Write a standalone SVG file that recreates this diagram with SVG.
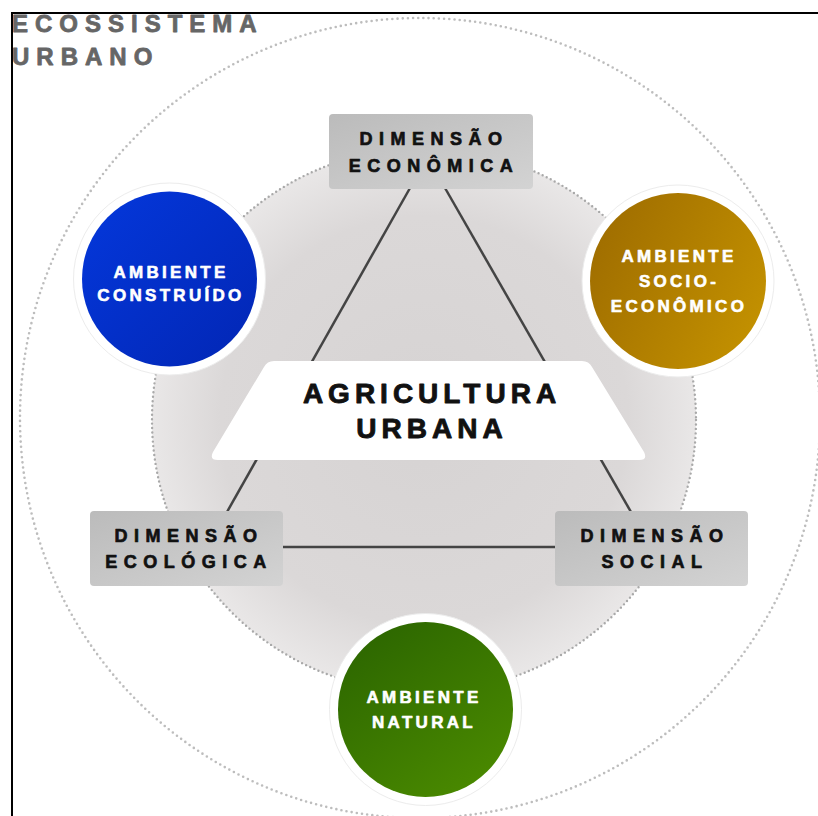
<svg xmlns="http://www.w3.org/2000/svg" width="818" height="816" viewBox="0 0 818 816">
<defs>
<style>
text{font-family:"Liberation Sans",Arial,sans-serif;font-weight:bold;text-anchor:middle;stroke-linejoin:round}
.title{font-size:24px;letter-spacing:7px;fill:#666;stroke:#666;stroke-width:0.8px;text-anchor:start}
.box{font-size:18px;letter-spacing:6.5px;fill:#111;stroke:#111;stroke-width:0.7px}
.ctr{font-size:28px;letter-spacing:5px;fill:#111;stroke:#111;stroke-width:0.9px}
.amb{font-size:17px;letter-spacing:3.3px;fill:#fff;stroke:#fff;stroke-width:0.6px}
.link{stroke:#444;stroke-width:2.5;fill:none}
.ring{fill:#fff;stroke:#ececec;stroke-width:1}
</style>
<radialGradient id="gIn" cx="0.5" cy="0.5" r="0.5">
<stop offset="0" stop-color="#d6d3d3"/>
<stop offset="0.75" stop-color="#dbd8d8"/>
<stop offset="1" stop-color="#e9e7e7"/>
</radialGradient>
<linearGradient id="gBox" x1="0" y1="0" x2="1" y2="1">
<stop offset="0" stop-color="#bbbbbb"/>
<stop offset="1" stop-color="#d3d3d3"/>
</linearGradient>
<linearGradient id="gBlue" x1="0" y1="0" x2="1" y2="1">
<stop offset="0" stop-color="#0438dc"/>
<stop offset="1" stop-color="#0226b4"/>
</linearGradient>
<linearGradient id="gGold" x1="0" y1="0.3" x2="1" y2="0.8">
<stop offset="0" stop-color="#a06e00"/>
<stop offset="1" stop-color="#c49200"/>
</linearGradient>
<linearGradient id="gGreen" x1="0.2" y1="0" x2="0.9" y2="1">
<stop offset="0" stop-color="#2c6600"/>
<stop offset="1" stop-color="#4c8c00"/>
</linearGradient>
</defs>
<rect width="818" height="816" fill="#fff"/>
<g id="background">
<circle cx="420" cy="418" r="400" fill="none" stroke="#bdbdbd" stroke-width="2.6" stroke-dasharray="0 5.2" stroke-linecap="round"/>
<circle cx="424" cy="420" r="272" fill="url(#gIn)" stroke="#a9a9a9" stroke-width="2.4" stroke-dasharray="0 4.5" stroke-linecap="round"/>
</g>
<g id="connectors">
<line class="link" x1="410" y1="188" x2="227" y2="512"/>
<line class="link" x1="445" y1="188" x2="631" y2="512"/>
<line class="link" x1="282" y1="547" x2="556" y2="547"/>
</g>
<g id="dim-economica">
<rect x="329" y="114" width="204" height="75" rx="4" fill="url(#gBox)"/>
<text class="box" x="434" y="145">DIMENSÃO</text>
<text class="box" x="434" y="172">ECONÔMICA</text>
</g>
<g id="dim-ecologica">
<rect x="90" y="511" width="193" height="75" rx="4" fill="url(#gBox)"/>
<text class="box" x="189" y="542">DIMENSÃO</text>
<text class="box" x="189" y="568">ECOLÓGICA</text>
</g>
<g id="dim-social">
<rect x="555" y="511" width="193" height="75" rx="4" fill="url(#gBox)"/>
<text class="box" x="655" y="542">DIMENSÃO</text>
<text class="box" x="655" y="568">SOCIAL</text>
</g>
<g id="agricultura-urbana">
<path d="M274,361 L582,361 Q589,361 592,367 L644,452 Q648,460 639,460 L218,460 Q209,460 213,452 L264,367 Q267,361 274,361 Z" fill="#fff"/>
<text class="ctr" x="432" y="403">AGRICULTURA</text>
<text class="ctr" x="432" y="438">URBANA</text>
</g>
<g id="amb-construido">
<circle class="ring" cx="169.5" cy="279" r="96"/>
<circle cx="169.5" cy="279" r="87.5" fill="url(#gBlue)"/>
<text class="amb" x="171" y="278">AMBIENTE</text>
<text class="amb" x="171" y="301">CONSTRUÍDO</text>
</g>
<g id="amb-socioeconomico">
<circle class="ring" cx="678" cy="281" r="96"/>
<circle cx="678" cy="281" r="88" fill="url(#gGold)"/>
<text class="amb" x="679" y="262">AMBIENTE</text>
<text class="amb" x="679" y="287">SOCIO-</text>
<text class="amb" x="679" y="312">ECONÔMICO</text>
</g>
<g id="amb-natural">
<circle class="ring" cx="425.5" cy="709.5" r="96"/>
<circle cx="425.5" cy="709.5" r="87.5" fill="url(#gGreen)"/>
<text class="amb" x="424" y="703">AMBIENTE</text>
<text class="amb" x="424" y="728">NATURAL</text>
</g>
<g id="title">
<text class="title" x="12" y="32">ECOSSISTEMA</text>
<text class="title" x="12" y="65">URBANO</text>
</g>
<g id="frame">
<line x1="11" y1="13" x2="818" y2="13" stroke="#000" stroke-width="2"/>
<line x1="12" y1="12" x2="12" y2="816" stroke="#000" stroke-width="2"/>
</g>
</svg>
